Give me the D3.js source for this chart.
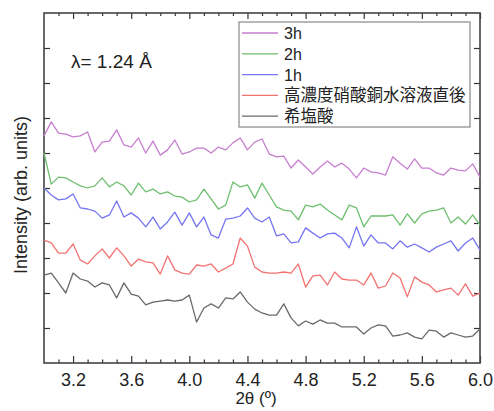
<!DOCTYPE html>
<html>
<head>
<meta charset="utf-8">
<script src="https://cdn.jsdelivr.net/npm/d3@7"></script>
<style>
  body { margin: 0; background: #fff; }
  svg text { font-family: "Liberation Sans", Arial, sans-serif; }
</style>
</head>
<body>
<div id="chart"></div>
<script>
// données (2θ en degrés, intensité en unités arbitraires)
const twoTheta = [3.00, 3.05, 3.10, 3.15, 3.20, 3.25, 3.30, 3.35, 3.40, 3.45,
    3.50, 3.55, 3.60, 3.65, 3.70, 3.75, 3.80, 3.85, 3.90, 3.95,
    4.00, 4.05, 4.10, 4.15, 4.20, 4.25, 4.30, 4.35, 4.40, 4.45,
    4.50, 4.55, 4.60, 4.65, 4.70, 4.75, 4.80, 4.85, 4.90, 4.95,
    5.00, 5.05, 5.10, 5.15, 5.20, 5.25, 5.30, 5.35, 5.40, 5.45,
    5.50, 5.55, 5.60, 5.65, 5.70, 5.75, 5.80, 5.85, 5.90, 5.95, 6.00]

const s3h = [6.49, 6.89, 6.57, 6.54, 6.46, 6.49, 6.60, 6.03, 6.31, 6.34,
    6.66, 6.23, 6.17, 6.43, 6.00, 6.34, 5.94, 6.09, 6.37, 5.97,
    6.03, 6.14, 6.14, 6.00, 6.17, 6.09, 6.29, 6.43, 6.09, 6.31,
    6.40, 5.97, 5.89, 5.91, 5.57, 5.80, 5.60, 5.40, 5.60, 5.77,
    5.60, 5.71, 5.54, 5.29, 5.57, 5.46, 5.43, 5.37, 5.89, 5.71,
    5.54, 5.83, 5.57, 5.57, 5.43, 5.37, 5.57, 5.51, 5.49, 5.69, 5.31]

const s2h = [6.00, 5.11, 5.31, 5.29, 5.17, 5.06, 5.00, 5.06, 5.29, 5.03,
    5.17, 5.06, 4.80, 5.14, 4.89, 4.97, 4.83, 4.89, 4.77, 4.74,
    4.60, 4.66, 4.97, 4.69, 4.40, 4.51, 5.17, 5.03, 5.09, 4.71,
    5.14, 4.80, 4.46, 4.37, 4.34, 4.09, 4.51, 4.46, 4.54, 4.37,
    4.23, 4.09, 4.51, 4.43, 3.89, 4.20, 4.20, 4.20, 4.23, 3.94,
    4.26, 4.00, 4.26, 4.34, 4.37, 4.43, 4.00, 4.17, 3.97, 4.23, 3.94]

const s1h = [5.00, 4.80, 4.66, 4.69, 4.83, 4.43, 4.40, 4.34, 4.14, 4.23,
    4.63, 4.17, 4.29, 4.14, 3.89, 4.17, 3.83, 4.03, 4.31, 3.94,
    4.29, 3.89, 4.17, 3.66, 3.57, 4.11, 4.14, 4.20, 4.43, 4.14,
    4.03, 4.17, 3.63, 3.69, 3.43, 3.46, 3.86, 3.71, 3.57, 3.69,
    3.71, 3.57, 3.29, 3.89, 3.34, 3.66, 3.43, 3.43, 3.26, 3.49,
    3.31, 3.40, 3.29, 3.17, 3.31, 3.40, 3.49, 3.20, 3.43, 3.57, 3.23]

const sDirect = [3.51, 3.43, 3.14, 3.14, 3.40, 2.94, 2.83, 3.06, 3.26, 3.00,
    3.29, 3.06, 2.77, 2.97, 2.89, 2.86, 2.54, 3.06, 2.66, 2.57,
    2.54, 2.80, 2.77, 2.83, 2.60, 2.71, 2.83, 3.57, 3.34, 2.74,
    2.60, 2.57, 2.57, 2.60, 2.57, 2.83, 2.17, 2.49, 2.51, 2.23,
    2.60, 2.40, 2.37, 2.37, 2.23, 2.57, 2.14, 2.20, 2.57, 2.43,
    1.89, 2.46, 2.31, 2.23, 2.03, 2.09, 2.14, 1.94, 2.26, 1.91, 2.00]

const sHCl = [2.51, 2.57, 2.29, 2.00, 2.57, 2.40, 2.34, 2.17, 2.29, 2.23,
    1.86, 2.29, 1.97, 1.91, 1.66, 1.74, 1.77, 1.80, 1.77, 1.80,
    1.94, 1.17, 1.57, 1.69, 1.57, 1.86, 1.83, 2.03, 1.74, 1.54,
    1.43, 1.37, 1.37, 1.69, 1.29, 1.06, 1.20, 1.11, 1.23, 1.14,
    1.14, 1.03, 1.03, 1.03, 0.83, 1.00, 1.09, 1.06, 0.77, 0.80,
    0.86, 0.74, 0.69, 0.94, 0.91, 0.74, 0.86, 0.80, 0.74, 0.77, 0.97]

const seriesNames = ["3h", "2h", "1h", "高濃度硝酸銅水溶液直後", "希塩酸"]
const seriesValues = [s3h, s2h, s1h, sDirect, sHCl]
const colors = ["#c77fcf", "#6fbf6f", "#7575f2", "#f27272", "#6a6a6a"]

const xTickValues = [3.2, 3.6, 4.0, 4.4, 4.8, 5.2, 5.6, 6.0]
const yTickValues = [1, 2, 3, 4, 5, 6, 7, 8, 9]

// marges
let margin = { top: 13, right: 14, bottom: 48, left: 44 }
let width = 494 - margin.left - margin.right,
    height = 411 - margin.top - margin.bottom

let svg = d3.select("#chart")
    .append("svg")
    .attr("width", 494)
    .attr("height", 411)

let g = svg.append("g")
    .attr("transform", "translate(" + margin.left + "," + margin.top + ")")

let x = d3.scaleLinear().domain([3.0, 6.0]).range([0, width])
let y = d3.scaleLinear().domain([0, 10]).range([height, 0])

// graduations secondaires tous les 0.1
let minorTicks = d3.range(31, 60).map(d => d / 10)
    .filter(d => !xTickValues.some(t => Math.abs(t - d) < 1e-6))

function styleAxis(sel) {
    sel.select(".domain").remove()
    sel.selectAll("line").attr("stroke", "#333").attr("stroke-width", 1.2)
    sel.selectAll("text")
        .attr("fill", "#222")
        .style("font-size", "18px")
}

g.append("g").attr("transform", "translate(0," + height + ")")
    .call(d3.axisBottom(x).tickValues(xTickValues).tickSize(-7).tickPadding(10).tickFormat(d3.format(".1f")))
    .call(styleAxis)
g.append("g").attr("transform", "translate(0," + height + ")")
    .call(d3.axisBottom(x).tickValues(minorTicks).tickSize(-3.5).tickFormat(""))
    .call(styleAxis)
g.append("g")
    .call(d3.axisTop(x).tickValues(xTickValues).tickSize(-6).tickFormat(""))
    .call(styleAxis)
g.append("g")
    .call(d3.axisTop(x).tickValues(minorTicks).tickSize(-3).tickFormat(""))
    .call(styleAxis)
g.append("g")
    .call(d3.axisLeft(y).tickValues(yTickValues).tickSize(-6).tickFormat(""))
    .call(styleAxis)
g.append("g").attr("transform", "translate(" + width + ",0)")
    .call(d3.axisRight(y).tickValues(yTickValues).tickSize(-6).tickFormat(""))
    .call(styleAxis)

// cadre
g.append("rect")
    .attr("width", width)
    .attr("height", height)
    .attr("fill", "none")
    .attr("stroke", "#444")
    .attr("stroke-width", 1.6)

// courbes
let line = d3.line()
    .x((d, i) => x(twoTheta[i]))
    .y(d => y(d))

seriesValues.forEach((vals, k) => {
    g.append("path")
        .datum(vals)
        .attr("fill", "none")
        .attr("stroke", colors[k])
        .attr("stroke-width", 1.3)
        .attr("stroke-linejoin", "round")
        .attr("d", line)
})

// légende
let legend = svg.append("g").attr("transform", "translate(239,22)")
legend.append("rect")
    .attr("width", 231)
    .attr("height", 105)
    .attr("fill", "#fff")
    .attr("stroke", "#888")
    .attr("stroke-width", 1.2)

let items = legend.selectAll(".legend")
    .data(seriesNames)
    .enter().append("g")
    .attr("class", "legend")
    .attr("transform", (d, i) => "translate(0," + (11 + i * 20.8) + ")")

items.append("line")
    .attr("x1", 3).attr("x2", 39)
    .attr("stroke", (d, i) => colors[i])
    .attr("stroke-width", 1.3)

items.append("text")
    .attr("x", 45)
    .attr("y", 6)
    .attr("fill", "#222")
    .style("font-size", (d, i) => i >= 3 ? "16.5px" : "16px")
    .style("font-family", (d, i) => i >= 3 ? '"Noto Sans CJK JP", sans-serif' : null)
    .text(d => d)

// annotation longueur d'onde
svg.append("text")
    .attr("x", 71)
    .attr("y", 68)
    .attr("fill", "#222")
    .style("font-size", "19px")
    .text("λ= 1.24 Å")

// titres des axes
svg.append("text")
    .attr("x", 256)
    .attr("y", 404)
    .attr("text-anchor", "middle")
    .attr("fill", "#222")
    .style("font-size", "17px")
    .text("2θ (º)")

svg.append("text")
    .attr("transform", "translate(27,195) rotate(-90)")
    .attr("text-anchor", "middle")
    .attr("fill", "#222")
    .style("font-size", "18px")
    .text("Intensity (arb. units)")
</script>
</body>
</html>
